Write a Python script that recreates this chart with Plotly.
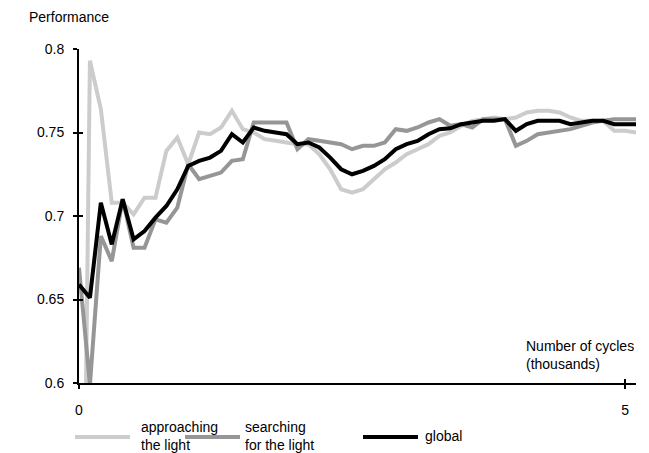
import plotly.graph_objects as go

# x positions: thousands of cycles, one sample every 100 cycles
cycles = [round(i * 0.1, 1) for i in range(52)]

approaching = [0.25, 0.793, 0.764, 0.708, 0.708, 0.701, 0.711, 0.711, 0.739, 0.747,
               0.731, 0.750, 0.749, 0.753, 0.763, 0.752, 0.750, 0.746, 0.745, 0.744,
               0.743, 0.743, 0.737, 0.728, 0.716, 0.714, 0.716, 0.722, 0.728, 0.732,
               0.737, 0.740, 0.743, 0.748, 0.750, 0.754, 0.757, 0.758, 0.759, 0.758,
               0.759, 0.762, 0.763, 0.763, 0.762, 0.759, 0.757, 0.757, 0.757, 0.751,
               0.751, 0.750]

searching = [0.669, 0.599, 0.688, 0.673, 0.710, 0.681, 0.681, 0.698, 0.696, 0.705,
             0.731, 0.722, 0.724, 0.726, 0.733, 0.734, 0.756, 0.756, 0.756, 0.756,
             0.740, 0.746, 0.745, 0.744, 0.743, 0.740, 0.742, 0.742, 0.744, 0.752,
             0.751, 0.753, 0.756, 0.758, 0.754, 0.755, 0.753, 0.758, 0.758, 0.758,
             0.742, 0.745, 0.749, 0.750, 0.751, 0.752, 0.754, 0.756, 0.757, 0.758,
             0.758, 0.758]

global_perf = [0.659, 0.651, 0.708, 0.683, 0.710, 0.686, 0.691, 0.699, 0.706, 0.716,
               0.730, 0.733, 0.735, 0.739, 0.749, 0.744, 0.753, 0.751, 0.750, 0.749,
               0.743, 0.744, 0.741, 0.735, 0.728, 0.725, 0.727, 0.730, 0.734, 0.740,
               0.743, 0.745, 0.749, 0.752, 0.7525, 0.755, 0.756, 0.757, 0.757, 0.758,
               0.751, 0.755, 0.757, 0.757, 0.757, 0.755, 0.756, 0.757, 0.757, 0.755,
               0.755, 0.755]

series_names = ["approaching<br>the light", "searching<br>for the light", "global"]
series_colors = ["#cccccc", "#969696", "#000000"]
y_ticks = [0.6, 0.65, 0.7, 0.75, 0.8]
y_tick_text = ["0.6", "0.65", "0.7", "0.75", "0.8"]
x_ticks = [0, 5]
x_tick_text = ["0", "5"]

W, H = 649, 453
L, R, T, B = 79, 13, 49, 70
PW, PH = W - L - R, H - T - B

def px_x(px):
    return (px - L) / PW

def px_y(py):
    return (H - B - py) / PH

FONT = "Liberation Sans, Arial, sans-serif"
FS = 14

fig = go.Figure()
for vals, name, col in zip([approaching, searching, global_perf], series_names, series_colors):
    fig.add_trace(go.Scatter(x=cycles, y=vals, mode="lines", name=name,
                             line=dict(color=col, width=4), showlegend=False,
                             hoverinfo="skip"))
# dummy trace to activate overlay axes (for crossing ticks)
fig.add_trace(go.Scatter(x=[None], y=[None], xaxis="x2", yaxis="y2",
                         showlegend=False, hoverinfo="skip"))

axis_common = dict(showgrid=False, zeroline=False, ticklen=4, tickwidth=2,
                   tickcolor="black", tickfont=dict(family=FONT, size=FS, color="black"))

fig.update_layout(
    width=W, height=H,
    margin=dict(l=L, r=R, t=T, b=B),
    paper_bgcolor="white", plot_bgcolor="white",
    font=dict(family=FONT, size=FS, color="black"),
    xaxis=dict(range=[0, 5.1], tickvals=x_ticks, ticktext=x_tick_text,
               ticks="outside", showline=True, linecolor="black", linewidth=2,
               ticklabelstandoff=9, **axis_common),
    yaxis=dict(range=[0.6, 0.8], tickvals=y_ticks, ticktext=y_tick_text,
               ticks="outside", showline=True, linecolor="black", linewidth=2,
               ticklabelstandoff=6, **axis_common),
    xaxis2=dict(range=[0, 5.1], tickvals=x_ticks, overlaying="x", anchor="y2",
                ticks="inside", showticklabels=False, showline=False, **axis_common),
    yaxis2=dict(range=[0.6, 0.8], tickvals=y_ticks, overlaying="y", anchor="x2",
                ticks="inside", showticklabels=False, showline=False, **axis_common),
)

annots = [
    dict(text="Performance", x=px_x(27), y=px_y(17), xanchor="left", yanchor="middle"),
    dict(text="Number of cycles<br>(thousands)", x=px_x(524), y=px_y(355),
         xanchor="left", yanchor="middle", align="left"),
]
# manual legend
legend_items = [(75, 130, 139), (185, 240, 243), (363, 418, 423)]
for (x0, x1, tx), name, col in zip(legend_items, series_names, series_colors):
    fig.add_shape(type="line", xref="paper", yref="paper",
                  x0=px_x(x0), x1=px_x(x1), y0=px_y(437), y1=px_y(437),
                  line=dict(color=col, width=4))
    annots.append(dict(text=name, x=px_x(tx), y=px_y(436), xanchor="left",
                       yanchor="middle", align="left"))
for a in annots:
    a.update(xref="paper", yref="paper", showarrow=False,
             font=dict(family=FONT, size=FS, color="black"))
fig.update_layout(annotations=annots)

fig.write_html("out.html", config={"displayModeBar": False},
               post_script="document.body.style.margin='0';document.body.style.overflow='hidden';")
